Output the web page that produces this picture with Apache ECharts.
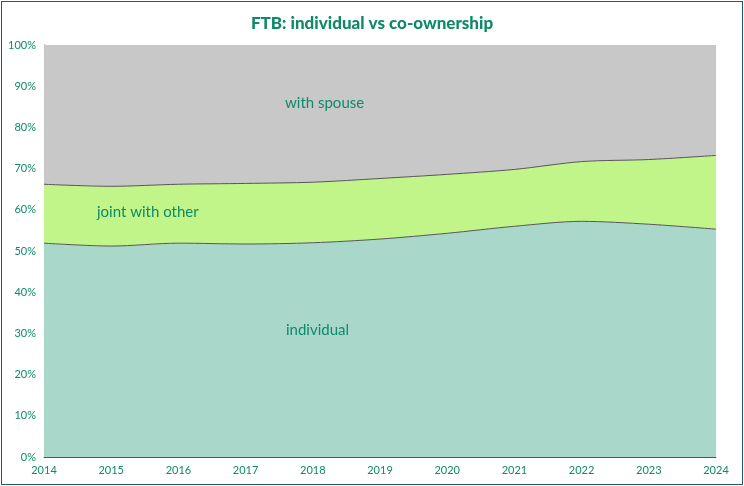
<!DOCTYPE html><html><head><meta charset="utf-8"><script src="https://cdn.jsdelivr.net/npm/echarts@6/dist/echarts.min.js"></script>
<style>html,body{margin:0;padding:0;background:#fff}#c{position:absolute;left:1px;top:1px;width:740px;height:482px;border:1px solid #1f5a6e}</style></head><body><div id="c"></div><script>
var years=['2014','2015','2016','2017','2018','2019','2020','2021','2022','2023','2024'];
var individual=[51.9,51.2,51.9,51.7,52.0,52.9,54.3,56.0,57.2,56.5,55.3];
var jointTop=[66.2,65.7,66.2,66.4,66.7,67.6,68.6,69.8,71.7,72.2,73.2];
var joint=jointTop.map(function(t,i){return +(t-individual[i]).toFixed(1);});
var spouse=jointTop.map(function(t){return +(100-t).toFixed(1);});
var green='#0e8a6a';
function s(name,data,color,lw){return {name:name,type:'line',stack:'a',data:data,smooth:0.3,symbol:'none',lineStyle:{color:'#555',width:lw},areaStyle:{color:color,opacity:1}};}
var ch=echarts.init(document.getElementById('c'));
function lbl(t,x,y){return {type:'text',x:x,y:y,z:100,style:{text:t,fill:green,fontSize:15,fontFamily:'Lato'}};}
ch.setOption({
title:{text:'FTB: individual vs co-ownership',left:'center',top:8,textStyle:{color:green,fontFamily:'Lato',fontWeight:900,fontSize:17}},
grid:{left:42,right:26,top:43,bottom:27},
xAxis:{type:'category',boundaryGap:false,data:years,axisLine:{lineStyle:{color:'#555'}},axisTick:{show:false},axisLabel:{color:green,fontFamily:'Lato',fontSize:11}},
yAxis:{type:'value',min:0,max:100,interval:10,axisLine:{show:true,lineStyle:{color:'#555'}},axisLabel:{formatter:'{value}%',color:green,fontFamily:'Lato',fontSize:11},splitLine:{lineStyle:{color:'rgba(0,0,0,0.06)'}}},
series:[s('individual',individual,'#a9d8cb',1),s('joint with other',joint,'#c1f589',1),s('with spouse',spouse,'#c8c8c8',0)],
graphic:[lbl('with spouse',283,94),lbl('joint with other',95,203),lbl('individual',284,321)]
});
</script></body></html>
